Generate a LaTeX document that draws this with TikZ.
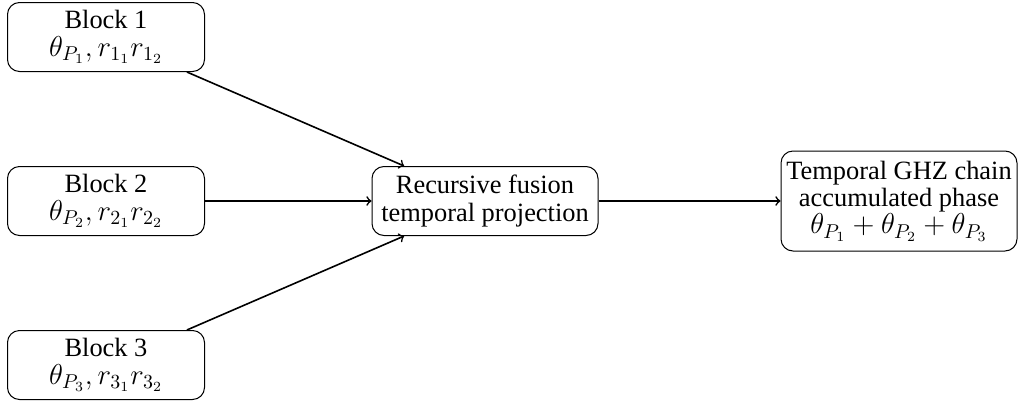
\documentclass[tikz,border=0pt]{standalone}
\usepackage[no-math]{fontspec}
\setmainfont{Liberation Serif}
\newcommand{\mymath}[1]{{\fontsize{14.5}{13.6}\selectfont$#1$}}
\begin{document}
\begin{tikzpicture}[x=1pt,y=1pt,
  box/.style={draw, line width=0.5pt, rounded corners=6pt, align=center, font=\fontsize{13.2}{13.6}\selectfont, inner sep=0pt},
  blk/.style={box, minimum width=98.5pt, minimum height=34.5pt},
  conn/.style={->, line width=0.8pt}]
\useasboundingbox (0,0) rectangle (511.5,-201);
\node[blk] (b1) at (53,-18.5) {Block 1\\\mymath{\theta_{P_1}, r_{1_1} r_{1_2}}};
\node[blk] (b2) at (53,-100.5) {Block 2\\\mymath{\theta_{P_2}, r_{2_1} r_{2_2}}};
\node[blk] (b3) at (53,-182.5) {Block 3\\\mymath{\theta_{P_3}, r_{3_1} r_{3_2}}};
\node[box, minimum width=113pt, minimum height=34.5pt] (f) at (242.5,-100.5) {Recursive fusion\\temporal projection};
\node[box, minimum width=118pt, minimum height=50pt] (t) at (449.5,-100.5) {Temporal GHZ chain\\accumulated phase\\\mymath{\theta_{P_1}+\theta_{P_2}+\theta_{P_3}}};
\draw[conn] (b1) -- (f);
\draw[conn] (b2) -- (f);
\draw[conn] (b3) -- (f);
\draw[conn] (f) -- (t);
\end{tikzpicture}
\end{document}
